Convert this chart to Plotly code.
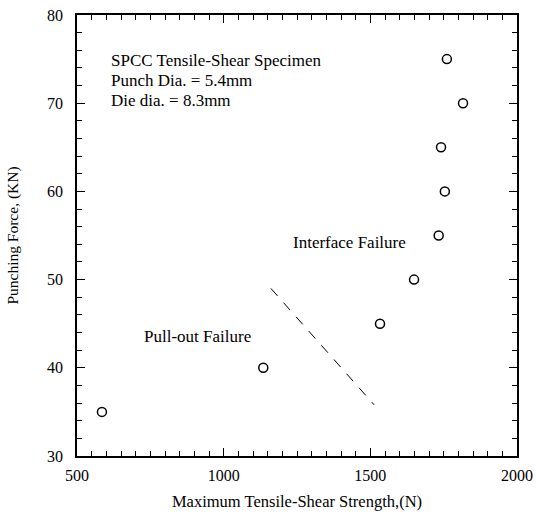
import plotly.graph_objects as go

strength = [585, 1135, 1533, 1649, 1733, 1754, 1741, 1816, 1761]
force = [35, 40, 45, 50, 55, 60, 65, 70, 75]

boundary_x = [1161, 1513]
boundary_y = [49, 35.8]

info_lines = ["SPCC Tensile-Shear Specimen", "Punch Dia. = 5.4mm", "Die dia. = 8.3mm"]
info_y = [0.896, 0.851, 0.806]

FONT = "Liberation Serif, Times New Roman, serif"

fig = go.Figure()
fig.add_trace(go.Scatter(
    x=boundary_x, y=boundary_y, mode="lines",
    line=dict(color="black", width=1, dash="10px,9px"),
    showlegend=False, hoverinfo="skip"))
fig.add_trace(go.Scatter(
    x=strength, y=force, mode="markers",
    marker=dict(symbol="circle-open", size=9, color="black", line=dict(width=1.5, color="black")),
    showlegend=False))

axis_common = dict(
    automargin=False,
    showgrid=False, zeroline=False, showline=True, linecolor="black", linewidth=1.5,
    mirror="ticks", ticks="inside", ticklen=8, tickwidth=1, tickcolor="black",
    tickfont=dict(family=FONT, size=16, color="black"),
)

fig.update_xaxes(range=[500, 2000], dtick=500, tick0=500, ticklabelstandoff=4,
                 minor=dict(dtick=50, ticks="inside", ticklen=5, tickcolor="black", tickwidth=1),
                 title=dict(text="Maximum Tensile-Shear Strength,(N)", font=dict(family=FONT, size=16.5, color="black"), standoff=12),
                 **axis_common)
fig.update_yaxes(range=[30, 80], dtick=10, tick0=30, ticklabelstandoff=9,
                 minor=dict(dtick=2, ticks="inside", ticklen=5, tickcolor="black", tickwidth=1),
                 title=dict(text="Punching Force, (KN)", font=dict(family=FONT, size=15.5, color="black"), standoff=25),
                 **axis_common)

for txt, yy in zip(info_lines, info_y):
    fig.add_annotation(x=0.072, y=yy, xref="paper", yref="paper", xanchor="left", yanchor="middle",
                       text=txt, showarrow=False, align="left",
                       font=dict(family=FONT, size=17, color="black"))
fig.add_annotation(x=1228, y=54.2, xref="x", yref="y", xanchor="left", yanchor="middle",
                   text="Interface Failure", showarrow=False,
                   font=dict(family=FONT, size=17, color="black"))
fig.add_annotation(x=722, y=43.6, xref="x", yref="y", xanchor="left", yanchor="middle",
                   text="Pull-out Failure", showarrow=False,
                   font=dict(family=FONT, size=17, color="black"))

fig.update_layout(
    width=536, height=515,
    margin=dict(l=77, r=19, t=15, b=59),
    paper_bgcolor="white", plot_bgcolor="white",
    font=dict(family=FONT, color="black"),
)

fig.write_html("out.html")
